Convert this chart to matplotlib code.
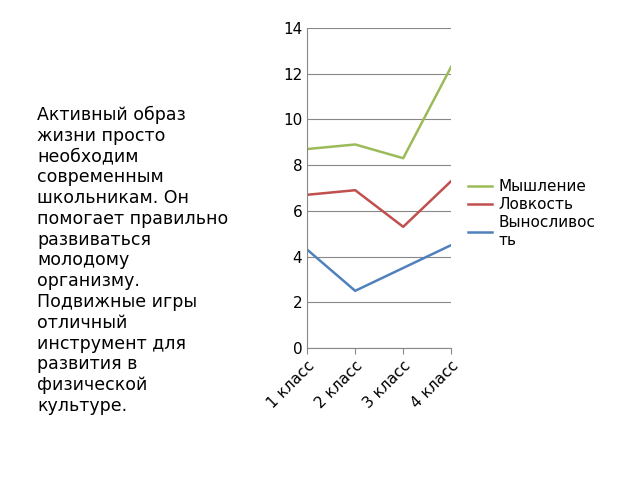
import matplotlib.pyplot as plt

classes = ['1 класс', '2 класс', '3 класс', '4 класс']
thinking = [8.7, 8.9, 8.3, 12.3]
agility = [6.7, 6.9, 5.3, 7.3]
endurance = [4.3, 2.5, 3.5, 4.5]

plt.rcParams['font.family'] = ['DejaVu Sans']
fig = plt.figure(figsize=(6.4, 4.8), dpi=100)
ax = fig.add_axes([0.48, 0.275, 0.225, 0.667])

x = range(len(classes))
ax.plot(x, thinking, color='#9BBB59', lw=1.8, label='Мышление')
ax.plot(x, agility, color='#C0504D', lw=1.8, label='Ловкость')
ax.plot(x, endurance, color='#4F81BD', lw=1.8, label='Выносливос\nть')

ax.set_ylim(0, 14)
ax.set_yticks(range(0, 15, 2))
ax.set_xlim(0, 3)
ax.set_xticks(list(x))
ax.set_xticklabels(classes, rotation=45, ha='right', rotation_mode='anchor', fontsize=11)
ax.tick_params(axis='y', labelsize=11, length=0)
ax.tick_params(axis='x', length=4, color='#888888')
ax.grid(axis='y', color='#888888', lw=0.8)
for s in ['top', 'right']:
    ax.spines[s].set_visible(False)
ax.spines['left'].set_color('#888888')
ax.spines['bottom'].set_color('#888888')

ax.legend(loc='center left', bbox_to_anchor=(1.02, 0.42), frameon=False,
          fontsize=11, handlelength=1.6, handletextpad=0.4, labelspacing=0.2)

fig.text(0.058, 0.78,
         'Активный образ\nжизни просто\nнеобходим\nсовременным\nшкольникам. Он\n'
         'помогает правильно\nразвиваться\nмолодому\nорганизму.\nПодвижные игры\n'
         'отличный\nинструмент для\nразвития в\nфизической\nкультуре.',
         fontsize=12.5, va='top', ha='left', linespacing=1.2)

fig.savefig('out.png', dpi=100)
